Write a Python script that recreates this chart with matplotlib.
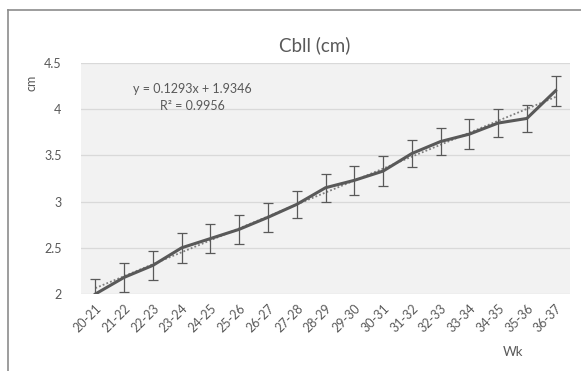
import matplotlib
matplotlib.use("Agg")
import matplotlib.pyplot as plt
from matplotlib.lines import Line2D
import numpy as np

# data
weeks = ["20-21", "21-22", "22-23", "23-24", "24-25", "25-26", "26-27", "27-28",
         "28-29", "29-30", "30-31", "31-32", "32-33", "33-34", "34-35", "35-36", "36-37"]
cbll = [2.00, 2.18, 2.31, 2.50, 2.60, 2.70, 2.83, 2.97, 3.15, 3.23, 3.33,
        3.52, 3.65, 3.73, 3.85, 3.90, 4.20]
err = [0.16, 0.16, 0.16, 0.16, 0.16, 0.16, 0.16, 0.15, 0.15, 0.16, 0.16,
       0.15, 0.15, 0.16, 0.15, 0.15, 0.16]
slope, intercept = 0.1293, 1.9346
r2 = 0.9956

plt.rcParams['font.family'] = ['Lato', 'DejaVu Sans']
grey = '#595959'

fig = plt.figure(figsize=(5.81, 3.71), dpi=100)
ax = fig.add_axes([81 / 581, 1 - 294 / 371, 489 / 581, 231 / 371])
ax.set_facecolor('#f2f2f2')

x = np.arange(len(weeks))
# linear trendline (Excel style, x = 1..n)
trend = slope * (x + 1) + intercept
ax.plot(x, trend, linestyle=(0, (1, 1.2)), color='#7f7f7f', linewidth=1.3, zorder=2)
ax.errorbar(x, cbll, yerr=err, color=grey, linewidth=2.2, ecolor=grey,
            elinewidth=0.9, capsize=3.5, capthick=0.9, zorder=3)

ax.set_xlim(-0.5, len(weeks) - 0.5)
ax.set_ylim(2, 4.5)
ax.set_yticks([2, 2.5, 3, 3.5, 4, 4.5])
ax.set_yticklabels(['2', '2.5', '3', '3.5', '4', '4.5'])
ax.set_xticks(x)
ax.set_xticklabels(weeks, rotation=45, ha='right', rotation_mode='anchor')
ax.tick_params(axis='both', length=0, colors=grey, labelsize=9)
ax.tick_params(axis='y', pad=14)
ax.tick_params(axis='x', pad=6)
ax.grid(axis='y', color='#d9d9d9', linewidth=0.9)
ax.set_axisbelow(True)
for s in ax.spines.values():
    s.set_visible(False)

fig.text(315 / 581, 1 - 45 / 371, 'Cbll (cm)', ha='center', va='center',
         fontsize=13.5, color=grey)
fig.text(32 / 581, 1 - 83 / 371, 'cm', rotation=90, ha='center', va='center',
         fontsize=9, color=grey)
fig.text(513 / 581, 1 - 352 / 371, 'Wk', ha='center', va='center',
         fontsize=9.5, color=grey)
fig.text(192 / 581, 1 - 89 / 371, f'y = {slope}x + {intercept}', ha='center',
         va='center', fontsize=9, color=grey)
fig.text(192 / 581, 1 - 106 / 371, f'R\u00b2 = {r2}', ha='center',
         va='center', fontsize=9, color=grey)

# chart frame (left and top edges visible)
fig.add_artist(Line2D([7.5 / 581, 7.5 / 581], [0, 1 - 9.5 / 371],
                      transform=fig.transFigure, color='#8c8c8c', linewidth=1.2))
fig.add_artist(Line2D([7.5 / 581, 1], [1 - 9.5 / 371, 1 - 9.5 / 371],
                      transform=fig.transFigure, color='#8c8c8c', linewidth=1.2))

fig.savefig('out.png', dpi=100)
